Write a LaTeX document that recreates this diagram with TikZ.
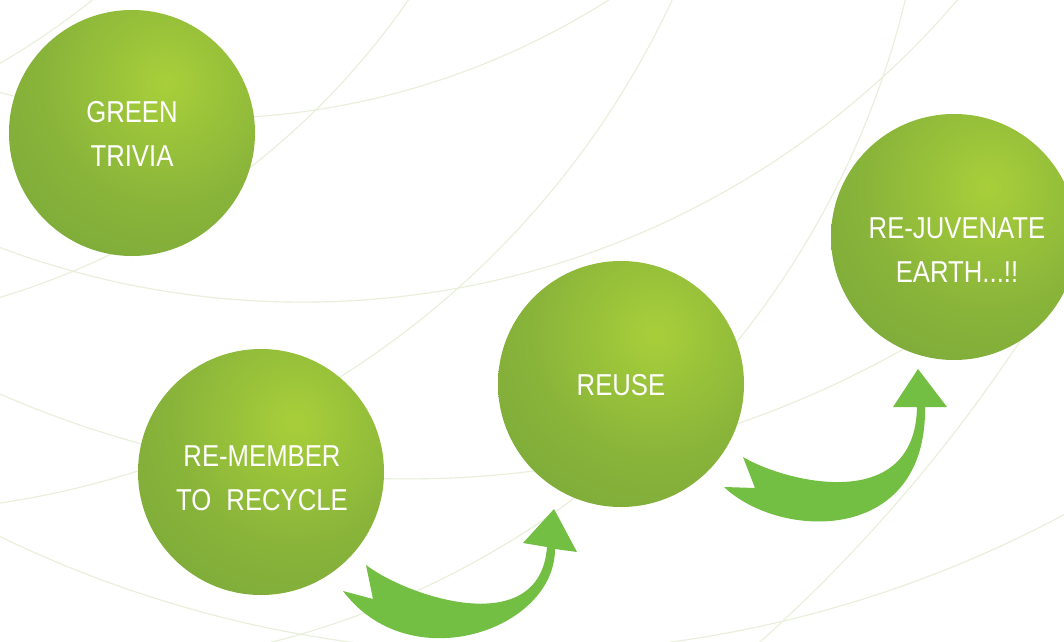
\documentclass[tikz,border=0pt]{standalone}
\usepackage{fontspec}
\usepackage{tikz}

\newfontfamily\ballfont[FakeStretch=0.85]{Liberation Sans}

\definecolor{ballLight}{HTML}{A8CF3A}
\definecolor{ballMid}{HTML}{8AB53A}
\definecolor{ballLow}{HTML}{76A53A}
\definecolor{ballDark}{HTML}{63953A}
\definecolor{arrowGreen}{HTML}{72BF44}
\definecolor{arcLine}{HTML}{E8EFDA}

% light spot, fading out to the dark rim
\pgfdeclareradialshading{greenspot}{\pgfpointorigin}{%
  color(0bp)=(ballLight); color(16bp)=(ballMid); color(34bp)=(ballLow); color(50bp)=(ballDark)}

\tikzset{
  ball/.style={circle, minimum size=6.15cm, inner sep=0pt,
    path picture={\shade[shading=greenspot]
      ([shift={(0.85cm,1.25cm)}]path picture bounding box.center) circle (4.625cm);}},
  ballText/.style={text=white, align=center, font=\ballfont\fontsize{21.5pt}{31.3pt}\selectfont},
  bgArc/.style={arcLine, line width=0.8pt},
  bigArrow/.style={fill=arrowGreen}
}

\begin{document}
\begin{tikzpicture}[x=0.25mm, y=-0.25mm]
        \useasboundingbox (0,0) rectangle (1064,642);
        \clip (0,0) rectangle (1064,642);
        \fill[white] (0,0) rectangle (1064,642);

        % faint circles in the background, only their edges show
        \draw[bgArc] (-221.5,-436.1) circle (191.5mm);
        \draw[bgArc] (199.3,-645.3) circle (191mm);
        \draw[bgArc] (-385.6,-598.7) circle (191.5mm);
        \draw[bgArc] (302.4,-558.7) circle (215.2mm);
        \draw[bgArc] (-131.1,-372.6) circle (221.3mm);
        \draw[bgArc] (406.7,-534.3) circle (253.3mm);
        \draw[bgArc] (510.4,-522.3) circle (293.8mm);
        \draw[bgArc] (53.7,-206.5) circle (219mm);
        \draw[bgArc] (-286,-523.5) circle (391.5mm);

        % the four balls
        \node[ball] (trivia)  at (132,133) {};
        \node[ball] (recycle) at (261,472) {};
        \node[ball] (reuse)   at (621,384) {};
        \node[ball] (earth)   at (954,237) {};

        \node[ballText] (triviaText)  at (132,134) {GREEN\\TRIVIA};
        \node[ballText] (recycleText) at (262,478) {RE-MEMBER\\TO\hspace{0.5em}RECYCLE};
        \node[ballText] (reuseText)   at (621,385) {REUSE};
        \node[ballText] (earthText)   at (957,250) {RE-JUVENATE\\EARTH...!!};

        % curved block arrows between the balls
        \fill[bigArrow] (343,591) -- (373,599) -- (366,565)
            .. controls (410,598) and (540,640) .. (547,547)
            -- (523,543) -- (554,509) -- (577,552) -- (555,549)
            .. controls (555,630) and (410,680) .. (343,591) -- cycle;
        \fill[bigArrow] (724,487) -- (755,488) -- (743,457)
            .. controls (785,482) and (915,515) .. (917,407)
            -- (893,407) -- (918,369) -- (947,407) -- (925,407)
            .. controls (927,545) and (780,540) .. (724,487) -- cycle;
\end{tikzpicture}
\end{document}
